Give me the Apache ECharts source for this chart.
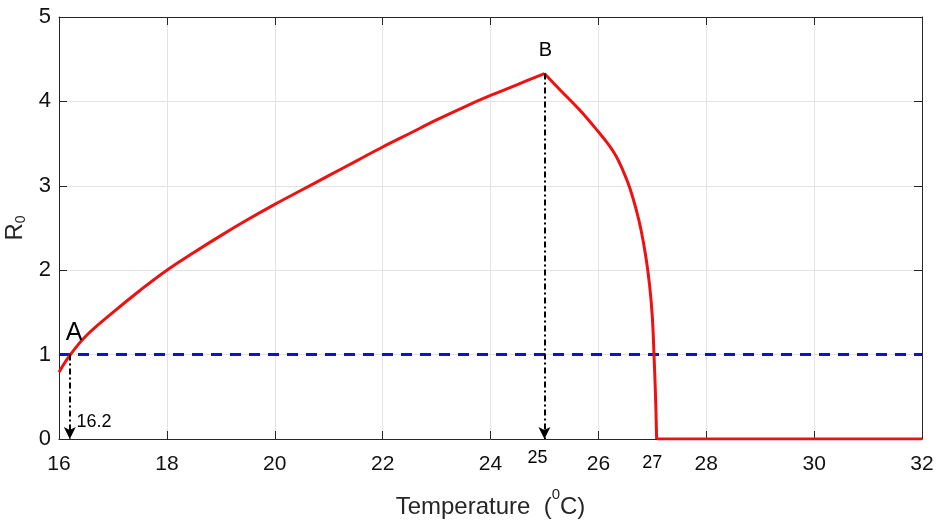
<!DOCTYPE html>
<html>
<head>
<meta charset="utf-8">
<script src="https://cdn.jsdelivr.net/npm/echarts@6/dist/echarts.min.js"></script>
<style>
html,body{margin:0;padding:0;background:#fff;}
#c{width:946px;height:527px;}
</style>
</head>
<body>
<div id="c"></div>
<script>
// Temperature (°C) and R0 values
// rising branch (up to point B)
const riseT  = [16.0, 16.2, 16.5, 17.0, 17.5, 18.0, 18.5, 19.0, 19.5, 20.0, 20.5, 21.0, 21.5, 22.0, 22.5, 23.0, 23.5, 24.0, 24.5, 25.0];
const riseR0 = [0.79, 0.99, 1.22, 1.50, 1.76, 2.0, 2.21, 2.41, 2.60, 2.78, 2.95, 3.12, 3.29, 3.46, 3.62, 3.78, 3.93, 4.07, 4.20, 4.33];
// falling branch (from point B to zero)
const fallT  = [25.0, 25.3, 25.65, 26.0, 26.2, 26.33, 26.45, 26.54, 26.62, 26.70, 26.79, 26.88, 26.95, 27.0, 27.03, 27.06, 27.08];
const fallR0 = [4.33, 4.13, 3.90, 3.64, 3.48, 3.35, 3.19, 3.05, 2.90, 2.72, 2.48, 2.16, 1.82, 1.45, 1.02, 0.5, 0.0];
// zero branch
const zeroT  = [27.08, 32.0];
const zeroR0 = [0.0, 0.0];
const thresholdT = [16, 32];
const thresholdR0 = [1, 1];
// Points A and B (drop lines)
const pointA = [16.2, 1.0];
const pointB = [25.0, 4.33];
const xTicks = [16, 18, 20, 22, 24, 26, 28, 30, 32];
const yTicks = [0, 1, 2, 3, 4, 5];
// annotation texts: [T, R0, text]
const annotations = [
  [16.28, 1.26, 'A'],
  [25.02, 4.6, 'B'],
  [16.65, 0.2, '16.2'],
  [24.87, -0.22, '25'],
  [27.0, -0.29, '27']
];
const annotationSizes = {A: 25, B: 20};

const chart = echarts.init(document.getElementById('c'), null, {renderer: 'canvas'});
const axisColor = '#262626';
const font = 'Liberation Sans, Arial, sans-serif';
const red = '#ee1111';
const dashDot = [6, 3, 2, 3];

function pairs(xs, ys) { return xs.map((x, i) => [x, ys[i]]); }

chart.setOption({
  animation: false,
  backgroundColor: '#ffffff',
  grid: {left: 59, right: 24, top: 17, bottom: 88, containLabel: false, outerBoundsMode: 'none'},
  xAxis: [{
    type: 'value', min: 16, max: 32, interval: 2,
    position: 'bottom',
    name: '{a|Temperature  (}{s|0}{a|C)}',
    nameLocation: 'middle', nameGap: 48,
    nameTextStyle: {
      rich: {
        a: {fontSize: 24, fontFamily: font, color: '#262626', verticalAlign: 'bottom', lineHeight: 32},
        s: {fontSize: 15, fontFamily: font, color: '#262626', verticalAlign: 'top', lineHeight: 32}
      }
    },
    axisLine: {show: true, onZero: false, lineStyle: {color: axisColor, width: 1}},
    axisTick: {show: true, inside: true, length: 8, lineStyle: {color: axisColor}},
    axisLabel: {fontSize: 21, fontFamily: font, color: '#111', margin: 15,
      formatter: v => xTicks.indexOf(v) >= 0 ? String(v) : ''},
    splitLine: {show: true, lineStyle: {color: '#e3e3e3', width: 1}}
  }, {
    type: 'value', min: 16, max: 32, interval: 2, position: 'top',
    axisLine: {show: true, onZero: false, lineStyle: {color: axisColor, width: 1}},
    axisTick: {show: true, inside: true, length: 8, lineStyle: {color: axisColor}},
    axisLabel: {show: false}, splitLine: {show: false}
  }],
  yAxis: [{
    type: 'value', min: 0, max: 5, interval: 1, position: 'left',
    name: '{r|R}{s|0}',
    nameLocation: 'middle', nameGap: 25, nameRotate: 90,
    nameTextStyle: {
      rich: {
        r: {fontSize: 24, fontFamily: font, color: '#262626', verticalAlign: 'top', lineHeight: 24},
        s: {fontSize: 14, fontFamily: font, color: '#262626', verticalAlign: 'bottom', lineHeight: 14, padding: [16, 0, 0, 0]}
      }
    },
    axisLine: {show: true, onZero: false, lineStyle: {color: axisColor, width: 1}},
    axisTick: {show: true, inside: true, length: 8, lineStyle: {color: axisColor}},
    axisLabel: {fontSize: 22, fontFamily: font, color: '#111', margin: 8,
      formatter: v => yTicks.indexOf(v) >= 0 ? String(v) : ''},
    splitLine: {show: true, lineStyle: {color: '#e3e3e3', width: 1}}
  }, {
    type: 'value', min: 0, max: 5, interval: 1, position: 'right',
    axisLine: {show: true, onZero: false, lineStyle: {color: axisColor, width: 1}},
    axisTick: {show: true, inside: true, length: 8, lineStyle: {color: axisColor}},
    axisLabel: {show: false}, splitLine: {show: false}
  }],
  series: [
    {
      name: 'threshold', type: 'line',
      data: pairs(thresholdT, thresholdR0),
      symbol: 'none', z: 3,
      lineStyle: {color: '#1010d0', width: 3, type: [11, 8]}
    },
    {
      name: 'R0 rise', type: 'line',
      data: pairs(riseT, riseR0),
      symbol: 'none', z: 4, smooth: 0.4,
      lineStyle: {color: red, width: 3},
      markLine: {
        silent: true, symbol: ['none', 'arrow'], symbolSize: [9, 12],
        label: {show: false},
        lineStyle: {color: '#000', width: 2, type: dashDot},
        data: [
          [{coord: [pointA[0], pointA[1]]}, {coord: [pointA[0], 0]}],
          [{coord: [pointB[0], pointB[1]]}, {coord: [pointB[0], 0]}]
        ]
      }
    },
    {
      name: 'R0 fall', type: 'line',
      data: pairs(fallT, fallR0),
      symbol: 'none', z: 4, smooth: 0.4,
      lineStyle: {color: red, width: 3}
    },
    {
      name: 'R0 zero', type: 'line',
      data: pairs(zeroT, zeroR0),
      symbol: 'none', z: 4,
      lineStyle: {color: red, width: 3}
    },
    {
      name: 'labels', type: 'scatter',
      clip: false, symbolSize: 0, silent: true, z: 6,
      data: annotations.map(a => ({
        value: [a[0], a[1]], name: a[2],
        label: {fontSize: annotationSizes[a[2]] || 18}
      })),
      label: {
        show: true, position: 'inside', fontFamily: font, color: '#000',
        textBorderWidth: 0, opacity: 1,
        formatter: p => p.name
      },
      itemStyle: {opacity: 1}
    }
  ]
});
</script>
</body>
</html>
